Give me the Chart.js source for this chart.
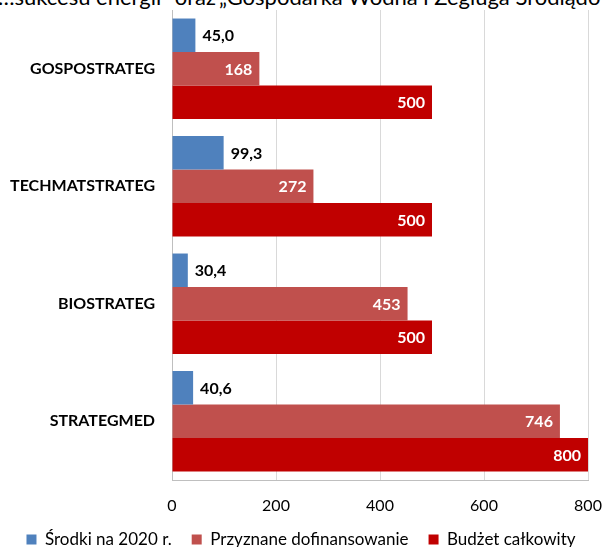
<!DOCTYPE html>
<html>
<head>
<meta charset="utf-8">
<script src="https://cdn.jsdelivr.net/npm/chart.js@4/dist/chart.umd.min.js"></script>
<style>
    html, body { margin: 0; padding: 0; background: #fff; }
    #wrap { position: relative; width: 602px; height: 547px; overflow: hidden; }
    .cut { position: absolute; top: -17px; font-family: Lato, sans-serif; font-size: 22px; color: #000; white-space: nowrap; }
    #pre { right: 386px; }
    #post { left: 219px; }
    canvas { position: absolute; left: 0; top: 0; }
</style>
</head>
<body>
<div id="wrap">
    <span class="cut" id="pre">…sukcesu energii” oraz</span>
    <span class="cut" id="post">„Gospodarka Wodna i Żegluga Śródlądowa”</span>
    <canvas id="chart" width="602" height="547"></canvas>
</div>
<script>
// Data
const categories = ['GOSPOSTRATEG', 'TECHMATSTRATEG', 'BIOSTRATEG', 'STRATEGMED'];
const seriesNames = ['Środki na 2020 r.', 'Przyznane dofinansowanie', 'Budżet całkowity'];
const funds2020 = [45.0, 99.3, 30.4, 40.6];
const granted = [168, 272, 453, 746];
const totalBudget = [500, 500, 500, 800];
const xTicks = [0, 200, 400, 600, 800];

const FONT = 'Lato, "Open Sans", sans-serif';

// Value labels drawn on / next to the bars
const barLabels = {
    id: 'barLabels',
    afterDatasetsDraw(chart) {
        const ctx = chart.ctx;
        ctx.save();
        ctx.font = 'bold 16px ' + FONT;
        ctx.textBaseline = 'middle';
        chart.data.datasets.forEach((ds, i) => {
            const meta = chart.getDatasetMeta(i);
            meta.data.forEach((bar, j) => {
                const v = ds.data[j];
                if (i === 0) {
                    ctx.fillStyle = '#000';
                    ctx.textAlign = 'left';
                    ctx.fillText(v.toFixed(1).replace('.', ','), bar.x + 7, bar.y + 1);
                } else {
                    ctx.fillStyle = '#fff';
                    ctx.textAlign = 'right';
                    ctx.fillText(String(v), bar.x - 7, bar.y + 1);
                }
            });
        });
        ctx.restore();
    }
};

// keep the legend box short so the plot gets the height
const legendHeight = {
    id: 'legendHeight',
    beforeLayout(chart) {
        const lg = chart.legend;
        if (lg && !lg._fixed) {
            const fit = lg.fit;
            lg.fit = function() { fit.call(this); this.height = 36; };
            lg._fixed = true;
        }
    }
};

new Chart(document.getElementById('chart'), {
    type: 'bar',
    data: {
        labels: categories,
        datasets: [
            { label: seriesNames[0], data: funds2020, backgroundColor: '#4F81BD' },
            { label: seriesNames[1], data: granted, backgroundColor: '#C0504D' },
            { label: seriesNames[2], data: totalBudget, backgroundColor: '#C00000' }
        ]
    },
    options: {
        indexAxis: 'y',
        responsive: false,
        animation: false,
        datasets: {
            bar: { barPercentage: 1, categoryPercentage: 0.855 }
        },
        layout: { padding: { top: 10, right: 0, left: 0, bottom: 0 } },
        scales: {
            x: {
                min: 0,
                max: 800,
                afterBuildTicks: s => { s.ticks = xTicks.map(v => ({ value: v })); },
                afterFit: s => { s.height = 31; s.paddingLeft = 0; s.paddingRight = 14; },
                grid: { color: '#d9d9d9', drawTicks: false, tickLength: 0 },
                border: { color: '#bfbfbf' },
                ticks: { color: '#000', padding: 16, font: { family: FONT, size: 16 } }
            },
            y: {
                afterFit: s => { s.width = 172; s.paddingTop = 0; s.paddingBottom = 0; },
                grid: { display: false, drawTicks: false, tickLength: 0 },
                border: { color: '#bfbfbf' },
                ticks: { color: '#000', padding: 17, font: { family: FONT, size: 16, weight: 'bold' } }
            }
        },
        plugins: {
            legend: {
                position: 'bottom',
                labels: {
                    color: '#000',
                    boxWidth: 10,
                    boxHeight: 10,
                    padding: 20,
                    font: { family: FONT, size: 17 }
                }
            },
            tooltip: { enabled: false }
        }
    },
    plugins: [barLabels, legendHeight]
});
</script>
</body>
</html>
